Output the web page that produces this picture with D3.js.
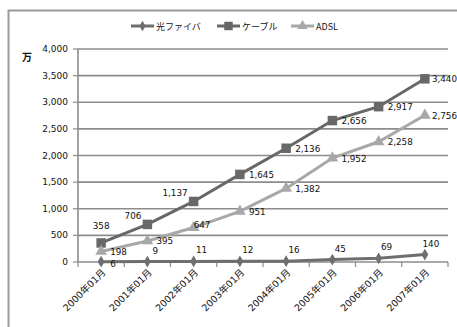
<!DOCTYPE html>
<html>
<head>
<meta charset="utf-8">
<script src="https://cdn.jsdelivr.net/npm/d3@7"></script>
<style>
  body { margin: 0; background: #fff; }
  svg text { font-family: "DejaVu Sans", sans-serif; fill: #111; }
  .cjk { font-family: "Noto Sans CJK JP", sans-serif; }
  .mix { font-family: "DejaVu Sans", "Noto Sans CJK JP", sans-serif; }
</style>
</head>
<body>
<div id="canvas"></div>
<script>
var W = 457, H = 327;

// data
var months = ['2000年01月','2001年01月','2002年01月','2003年01月','2004年01月','2005年01月','2006年01月','2007年01月'];
var fiber = [6, 9, 11, 12, 16, 45, 69, 140];
var cable = [358, 706, 1137, 1645, 2136, 2656, 2917, 3440];
var adsl = [198, 395, 647, 951, 1382, 1952, 2258, 2756];
var yTicks = [0, 500, 1000, 1500, 2000, 2500, 3000, 3500, 4000];

var svg = d3.select('#canvas').append('svg')
    .attr('width', W).attr('height', H);

// outer frame (right/bottom edges are outside the picture)
svg.append('path')
    .attr('d', 'M8.5,' + (H + 2) + 'V10.5H' + (W + 2))
    .attr('fill', 'none').attr('stroke', '#9a9a9a').attr('stroke-width', 2);

var x = d3.scaleBand().domain(months).range([78, 448]);
var y = d3.scaleLinear().domain([0, 4000]).range([262, 49]);
var cx = function(i){ return x(months[i]) + x.bandwidth() / 2; };

// gridlines
svg.append('g').selectAll('line')
    .data(yTicks.slice(1))
    .enter().append('line')
    .attr('x1', 78).attr('x2', 448)
    .attr('y1', d => y(d)).attr('y2', d => y(d))
    .attr('stroke', '#8c8c8c').attr('stroke-width', 1.6);

// y axis
var yAxis = svg.append('g');
yAxis.append('line').attr('x1', 78).attr('x2', 78).attr('y1', y(4000)).attr('y2', y(0))
    .attr('stroke', '#8c8c8c').attr('stroke-width', 1.6);
yAxis.selectAll('.tk').data(yTicks).enter().append('line')
    .attr('x1', 73).attr('x2', 78).attr('y1', d => y(d)).attr('y2', d => y(d))
    .attr('stroke', '#8c8c8c').attr('stroke-width', 1.2);
yAxis.selectAll('text').data(yTicks).enter().append('text')
    .attr('x', 68).attr('y', d => y(d) + 3)
    .attr('text-anchor', 'end').attr('font-size', 9)
    .text(d => d3.format(',')(d));

svg.append('text').attr('class', 'cjk')
    .attr('x', 22).attr('y', 61).attr('font-size', 10).attr('font-weight', 'bold')
    .text('万');

// x axis
var xAxis = svg.append('g');
xAxis.append('line').attr('x1', 78).attr('x2', 448).attr('y1', y(0)).attr('y2', y(0))
    .attr('stroke', '#8c8c8c').attr('stroke-width', 1.6);
xAxis.selectAll('.tk').data(months.concat(['end'])).enter().append('line')
    .attr('x1', (d, i) => 78 + i * x.bandwidth())
    .attr('x2', (d, i) => 78 + i * x.bandwidth())
    .attr('y1', y(0)).attr('y2', y(0) + 5)
    .attr('stroke', '#8c8c8c').attr('stroke-width', 1.2);
xAxis.selectAll('text').data(months).enter().append('text')
    .attr('class', 'mix')
    .attr('transform', (d, i) => 'translate(' + (cx(i) + 5) + ',' + (y(0) + 11) + ') rotate(-45)')
    .attr('text-anchor', 'end').attr('font-size', 9.5)
    .text(d => d);

// series
var series = [
  {name: '光ファイバ', values: fiber, color: '#6e6e6e', shape: d3.symbolDiamond, size: 40,
   place: ['br','a','a','a','a','a','a','a']},
  {name: 'ケーブル', values: cable, color: '#686868', shape: d3.symbolSquare, size: 90,
   place: ['ca','al','al','r','r','r','r','r']},
  {name: 'ADSL', values: adsl, color: '#a8a8a8', shape: d3.symbolTriangle, size: 60,
   place: ['r','r','ra','r','r','r','r','r']}
];

var line = d3.line().x((d, i) => cx(i)).y(d => y(d));

series.forEach(function(s){
  var g = svg.append('g');
  g.append('path').attr('d', line(s.values))
      .attr('fill', 'none').attr('stroke', s.color).attr('stroke-width', 3);
  g.selectAll('path.m').data(s.values).enter().append('path')
      .attr('class', 'm')
      .attr('transform', (d, i) => 'translate(' + cx(i) + ',' + y(d) + ')')
      .attr('d', d3.symbol().type(s.shape).size(s.size))
      .attr('fill', s.color);
});

// data labels
var offs = {a: [8, -8, 'middle'], ca: [0, -14, 'middle'], al: [-6, -5, 'end'],
            r: [9, 3.5, 'start'], ra: [0, 0, 'start'], br: [9, 5, 'start']};
series.forEach(function(s){
  svg.append('g').selectAll('text').data(s.values).enter().append('text')
      .attr('x', (d, i) => cx(i) + offs[s.place[i]][0] - (i == 7 ? 2 : 0))
      .attr('y', (d, i) => y(d) + offs[s.place[i]][1])
      .attr('text-anchor', (d, i) => offs[s.place[i]][2])
      .attr('font-size', 8.8)
      .text(d => d3.format(',')(d));
});

// legend
var legX = [131, 217, 291];
var leg = svg.append('g').selectAll('g').data(series).enter().append('g')
    .attr('transform', (d, i) => 'translate(' + legX[i] + ',26)');
leg.append('line').attr('x1', 0).attr('x2', 23)
    .attr('stroke', d => d.color).attr('stroke-width', 3);
leg.append('path').attr('transform', 'translate(11.5,0)')
    .attr('d', d => d3.symbol().type(d.shape).size(d.size * 0.8)())
    .attr('fill', d => d.color);
leg.append('text').attr('class', 'cjk')
    .attr('x', 25).attr('y', 3.5).attr('font-size', 9)
    .text(d => d.name);
</script>
</body>
</html>
